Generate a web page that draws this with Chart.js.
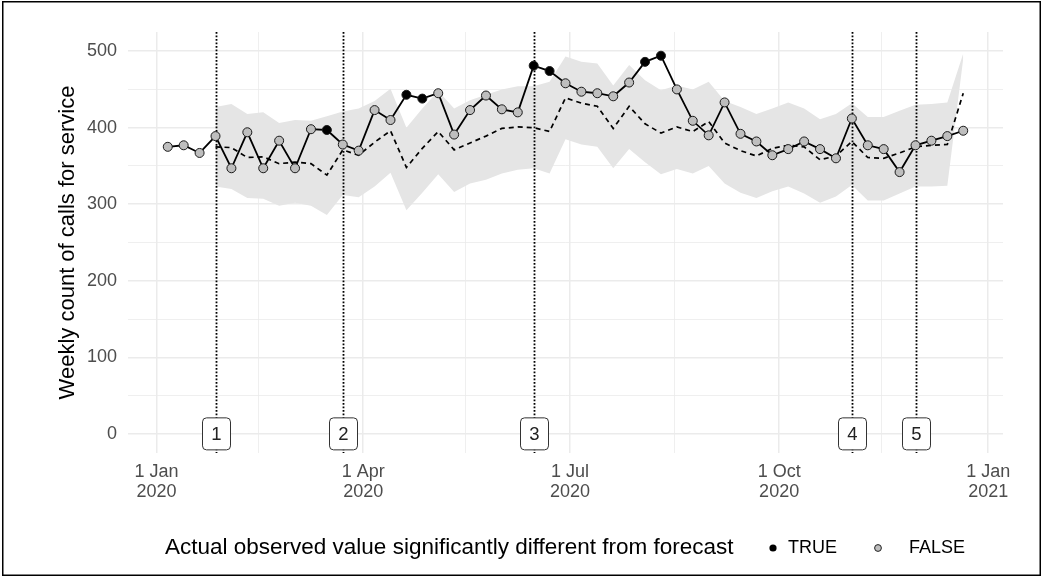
<!DOCTYPE html>
<html>
<head>
<meta charset="utf-8">
<script src="https://cdn.jsdelivr.net/npm/chart.js@4.4.1/dist/chart.umd.min.js"></script>
<style>
  html, body { margin: 0; padding: 0; background: #fff; }
  #wrap { width: 1043px; height: 578px; position: relative; }
</style>
</head>
<body>
<div id="wrap"><canvas id="chart" width="1043" height="578"></canvas></div>
<script>
// ===================================
// DATA
// ===================================

// week start dates
const weeks = [
    '2020-01-06', '2020-01-13', '2020-01-20', '2020-01-27', '2020-02-03', '2020-02-10',
    '2020-02-17', '2020-02-24', '2020-03-02', '2020-03-09', '2020-03-16', '2020-03-23',
    '2020-03-30', '2020-04-06', '2020-04-13', '2020-04-20', '2020-04-27', '2020-05-04',
    '2020-05-11', '2020-05-18', '2020-05-25', '2020-06-01', '2020-06-08', '2020-06-15',
    '2020-06-22', '2020-06-29', '2020-07-06', '2020-07-13', '2020-07-20', '2020-07-27',
    '2020-08-03', '2020-08-10', '2020-08-17', '2020-08-24', '2020-08-31', '2020-09-07',
    '2020-09-14', '2020-09-21', '2020-09-28', '2020-10-05', '2020-10-12', '2020-10-19',
    '2020-10-26', '2020-11-02', '2020-11-09', '2020-11-16', '2020-11-23', '2020-11-30',
    '2020-12-07', '2020-12-14', '2020-12-21'
];

// actual weekly counts
const observed = [
    375, 377, 367, 389, 347, 394, 347, 383, 347, 398, 397, 378,
    370, 423, 410, 443, 438, 445, 391, 423, 442, 424, 420, 481,
    474, 458, 447, 445, 441, 459, 486, 494, 450, 409, 390, 433,
    392, 382, 364, 372, 382, 372, 360, 412, 377, 372, 342, 377,
    383, 389, 396
];

// observed value significantly different from forecast
const significant = [
    false, false, false, false, false, false, false, false, false, false, true, false,
    false, false, false, true, true, false, false, false, false, false, false, true,
    true, false, false, false, false, false, true, true, false, false, false, false,
    false, false, false, false, false, false, false, false, false, false, false, false,
    false, false, false
];

// forecast (dashed) and forecast interval
const forecast = [
    null, null, null, 375, 374, 361, 362, 353, 355, 353, 338, 371,
    364, 381, 396, 348, 373, 395, 371, 380, 389, 399, 401, 400,
    395, 439, 432, 428, 399, 428, 405, 393, 401, 395, 408, 380,
    370, 363, 373, 377, 375, 358, 363, 382, 361, 360, 367, 375,
    377, 378, 445
];
const upper = [
    null, null, null, 427, 431, 418, 420, 406, 410, 409, 415, 421,
    425, 435, 451, 400, 425, 448, 425, 436, 443, 450, 454, 454,
    460, 493, 486, 484, 455, 482, 462, 449, 455, 450, 460, 435,
    427, 418, 425, 433, 425, 411, 418, 432, 414, 414, 422, 430,
    431, 433, 497
];
const lower = [
    null, null, null, 323, 320, 308, 307, 298, 302, 298, 286, 312,
    309, 323, 341, 292, 315, 339, 316, 327, 332, 340, 345, 347,
    340, 385, 378, 375, 347, 372, 355, 339, 346, 340, 350, 327,
    315, 308, 317, 323, 314, 302, 310, 325, 305, 305, 314, 323,
    323, 324, 490
];

// numbered events
const eventDates = ['2020-01-27', '2020-03-23', '2020-06-15', '2020-11-02', '2020-11-30'];
const eventLabels = ['1', '2', '3', '4', '5'];

// axis ticks
const xTickDates = ['2020-01-01', '2020-04-01', '2020-07-01', '2020-10-01', '2021-01-01'];
const xTickLabels = [['1 Jan', '2020'], ['1 Apr', '2020'], ['1 Jul', '2020'], ['1 Oct', '2020'], ['1 Jan', '2021']];
const xMinorDates = ['2020-02-15', '2020-05-16', '2020-08-16', '2020-11-15'];
const yTicks = [0, 100, 200, 300, 400, 500];
const yMinorTicks = [50, 150, 250, 350, 450];

// ===================================
// HELPERS
// ===================================

const FONT = '"Liberation Sans", Arial, Helvetica, sans-serif';
const ORIGIN = Date.parse('2020-01-01');

function dayOf(s) {
    return (Date.parse(s) - ORIGIN) / 86400000;
}

function toPoints(values) {
    return values.map((v, i) => ({ x: dayOf(weeks[i]), y: v }));
}

const xMajor = xTickDates.map(dayOf);
const xMinor = xMinorDates.map(dayOf);

// ===================================
// PLUGINS
// ===================================

// dotted event lines, drawn just above the band
const eventLines = {
    id: 'eventLines',
    afterDatasetDraw(chart, args) {
        if (args.index !== 1) return;
        const { ctx, chartArea } = chart;
        const xs = chart.scales.x;
        ctx.save();
        ctx.strokeStyle = '#000';
        ctx.lineWidth = 1.8;
        ctx.setLineDash([1.8, 1.7]);
        eventDates.forEach(d => {
            const px = Math.round(xs.getPixelForValue(dayOf(d))) + 0.5;
            ctx.beginPath();
            ctx.moveTo(px, chartArea.top);
            ctx.lineTo(px, chartArea.bottom);
            ctx.stroke();
        });
        ctx.restore();
    }
};

function roundRect(ctx, x, y, w, h, r) {
    ctx.beginPath();
    ctx.moveTo(x + r, y);
    ctx.arcTo(x + w, y, x + w, y + h, r);
    ctx.arcTo(x + w, y + h, x, y + h, r);
    ctx.arcTo(x, y + h, x, y, r);
    ctx.arcTo(x, y, x + w, y, r);
    ctx.closePath();
}

// boxed labels, axis title, legend and frame
const overlay = {
    id: 'overlay',
    afterDraw(chart) {
        const { ctx, chartArea } = chart;
        const xs = chart.scales.x;
        const ys = chart.scales.y;
        ctx.save();

        // event labels at y = 0
        ctx.font = '18.5px ' + FONT;
        ctx.textAlign = 'center';
        ctx.textBaseline = 'middle';
        eventDates.forEach((d, i) => {
            const px = Math.round(xs.getPixelForValue(dayOf(d))) + 0.5;
            const py = ys.getPixelForValue(0);
            const w = 28, h = 32;
            roundRect(ctx, px - w / 2, py - h / 2, w, h, 4);
            ctx.fillStyle = '#fff';
            ctx.fill();
            ctx.strokeStyle = '#333';
            ctx.lineWidth = 1;
            ctx.setLineDash([]);
            ctx.stroke();
            ctx.fillStyle = '#222';
            ctx.fillText(eventLabels[i], px, py + 1);
        });

        // y axis title
        ctx.save();
        ctx.translate(68, (chartArea.top + chartArea.bottom) / 2);
        ctx.rotate(-Math.PI / 2);
        ctx.font = '22px ' + FONT;
        ctx.fillStyle = '#000';
        ctx.textAlign = 'center';
        ctx.textBaseline = 'middle';
        ctx.fillText('Weekly count of calls for service', 0, 0);
        ctx.restore();

        // legend
        const legendY = 548;
        ctx.textBaseline = 'middle';
        ctx.textAlign = 'left';
        ctx.font = '22.5px ' + FONT;
        ctx.fillStyle = '#000';
        ctx.fillText('Actual observed value significantly different from forecast', 165, legendY);

        ctx.beginPath();
        ctx.arc(773, legendY, 3.6, 0, Math.PI * 2);
        ctx.fillStyle = '#000';
        ctx.fill();
        ctx.font = '18px ' + FONT;
        ctx.fillText('TRUE', 788, legendY);

        ctx.beginPath();
        ctx.arc(878, legendY, 3.4, 0, Math.PI * 2);
        ctx.fillStyle = '#bebebe';
        ctx.fill();
        ctx.strokeStyle = '#222';
        ctx.lineWidth = 1;
        ctx.stroke();
        ctx.fillStyle = '#000';
        ctx.fillText('FALSE', 909, legendY);

        // frame
        ctx.strokeStyle = '#000';
        ctx.lineWidth = 1.5;
        ctx.strokeRect(2.75, 1.75, 1037.5, 573.5);
        ctx.restore();
    }
};

// ===================================
// CHART
// ===================================

const ctx = document.getElementById('chart').getContext('2d');

new Chart(ctx, {
    type: 'line',
    data: {
        datasets: [
            {
                label: 'upper',
                data: toPoints(upper),
                borderWidth: 0,
                borderColor: 'rgba(0,0,0,0)',
                backgroundColor: '#e5e5e5',
                pointRadius: 0,
                fill: '+1',
                tension: 0,
                order: 3
            },
            {
                label: 'lower',
                data: toPoints(lower),
                borderWidth: 0,
                borderColor: 'rgba(0,0,0,0)',
                pointRadius: 0,
                fill: false,
                tension: 0,
                order: 2
            },
            {
                label: 'forecast',
                data: toPoints(forecast),
                borderColor: '#000',
                borderWidth: 1.7,
                borderDash: [5, 4],
                pointRadius: 0,
                fill: false,
                tension: 0,
                order: 1
            },
            {
                label: 'observed',
                data: toPoints(observed),
                borderColor: '#000',
                borderWidth: 1.8,
                pointRadius: 4.5,
                pointBorderWidth: 1,
                pointBorderColor: '#1a1a1a',
                pointBackgroundColor: significant.map(s => s ? '#000' : '#bebebe'),
                fill: false,
                tension: 0,
                order: 0
            }
        ]
    },
    options: {
        responsive: false,
        animation: false,
        layout: {
            padding: { top: 32, right: 40, left: 0, bottom: 0 }
        },
        plugins: {
            legend: { display: false },
            tooltip: { enabled: false }
        },
        scales: {
            x: {
                type: 'linear',
                min: -12.5,
                max: 372.5,
                border: { display: false },
                afterBuildTicks: scale => {
                    scale.ticks = [...xMajor, ...xMinor].sort((a, b) => a - b).map(v => ({ value: v }));
                },
                afterFit: scale => { scale.height = 125; },
                grid: {
                    drawTicks: false,
                    color: '#ebebeb',
                    lineWidth: c => xMajor.includes(c.tick.value) ? 1.5 : 0.8
                },
                ticks: {
                    autoSkip: false,
                    maxRotation: 0,
                    padding: 9,
                    color: '#4d4d4d',
                    font: { family: FONT, size: 18, lineHeight: 1.1 },
                    callback: v => {
                        const i = xMajor.indexOf(v);
                        return i >= 0 ? xTickLabels[i] : '';
                    }
                }
            },
            y: {
                type: 'linear',
                min: -25,
                max: 525,
                border: { display: false },
                afterBuildTicks: scale => {
                    scale.ticks = [...yTicks, ...yMinorTicks].sort((a, b) => a - b).map(v => ({ value: v }));
                },
                afterFit: scale => { scale.width = 128; },
                grid: {
                    drawTicks: false,
                    color: '#ebebeb',
                    lineWidth: c => yTicks.includes(c.tick.value) ? 1.5 : 0.8
                },
                ticks: {
                    padding: 11,
                    color: '#4d4d4d',
                    font: { family: FONT, size: 18 },
                    callback: v => yTicks.includes(v) ? String(v) : ''
                }
            }
        }
    },
    plugins: [eventLines, overlay]
});
</script>
</body>
</html>
